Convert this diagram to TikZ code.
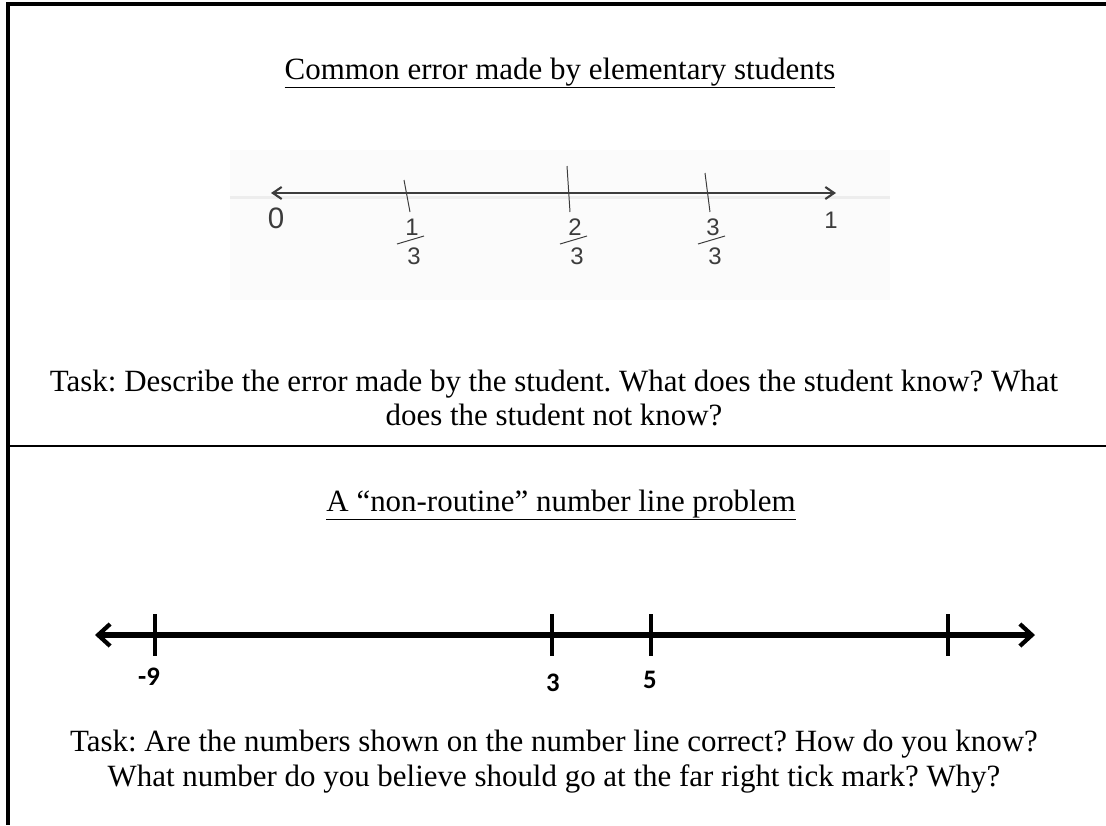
\documentclass[tikz,border=0pt]{standalone}
\usepackage{fontspec}
\setmainfont{Liberation Serif}
\newfontfamily\numfont{Carlito}
\newfontfamily\handfont{Liberation Sans}
\usepackage{xcolor}
\usetikzlibrary{arrows.meta, positioning, calc}
\definecolor{pencil}{RGB}{60,60,60}
\frenchspacing
\tikzset{
  heading/.style={font=\fontsize{22}{25}\selectfont, anchor=base},
  tasktext/.style={font=\fontsize{22}{24.8}\selectfont, align=center},
  framerule/.style={line width=2.2pt, black},
  handnum/.style={font=\handfont\fontsize{17}{17}\selectfont, text=pencil, inner sep=0pt},
  handline/.style={draw=pencil, line width=0.7pt},
  scanarrow/.style={{Straight Barb[length=2.2mm, width=3mm]}-{Straight Barb[length=2.2mm, width=3mm]}, pencil, line width=1.5pt},
  boldnum/.style={font=\numfont\bfseries\fontsize{19}{19}\selectfont, inner sep=0pt},
  fatarrow/.style={{Straight Barb[length=3mm, width=5.5mm, line width=3pt]}-{Straight Barb[length=3mm, width=5.5mm, line width=3pt]}, line width=3.6pt},
  fattick/.style={line width=2.8pt},
}

\begin{document}
\begin{tikzpicture}[x=0.025cm, y=-0.025cm]
  \useasboundingbox (0,0) rectangle (1106,825);

  % Frame
  \draw[framerule] (1106,4) -- (8,4) -- (8,825);
  \draw[line width=1.5pt] (8,446) -- (1106,446);

  % Upper panel: scanned student work
  \node[heading] (title1) at (560,79) {\underline{Common error made by elementary students}};

  \fill[black!1.5] (230,150) rectangle (890,300);
  \fill[black!7] (230,196) rectangle (890,199);

  \coordinate (s0) at (271,193);
  \coordinate (s1) at (836,193);
  \draw[scanarrow] (s0) -- (s1);

  \node[handnum, font=\handfont\fontsize{21}{21}\selectfont] (zero) at (276,218) {0};
  \node[handnum] (one) at (831,220) {1};

  \foreach \name/\x/\top/\dx/\num in {third/404/180/6/1, twothirds/567/166/3/2, threethirds/705/173/5/3} {
    \draw[handline] (\x,\top) -- (\x+\dx,212);
    \node[handnum] (\name-n) at (\x+8,227) {\num};
    \draw[handline] (\x-7,244) -- (\x+20,236);
    \node[handnum] (\name-d) at (\x+10,256) {3};
  }

  \node[tasktext] (task1) at (554,398) {Task: Describe the error made by the student. What does the student know? What\\does the student not know?};

  % Lower panel: non-routine number line
  \node[heading] (title2) at (561,511) {\underline{A \textquotedblleft non-routine\textquotedblright\ number line problem}};

  \coordinate (n0) at (95,635);
  \coordinate (n1) at (1035,635);
  \draw[fatarrow] (n0) -- (n1);

  \foreach \name/\x in {minusnine/155, three/552, five/651, farright/948} {
    \draw[fattick] (\x,614) -- (\x,656);
  }

  \node[boldnum] (lab-minusnine) at (149,677) {-9};
  \node[boldnum] (lab-three) at (553,683) {3};
  \node[boldnum] (lab-five) at (650,680) {5};

  \node[tasktext] (task2) at (554,762) {Task: Are the numbers shown on the number line correct? How do you know?\\What number do you believe should go at the far right tick mark? Why?};
\end{tikzpicture}
\end{document}
